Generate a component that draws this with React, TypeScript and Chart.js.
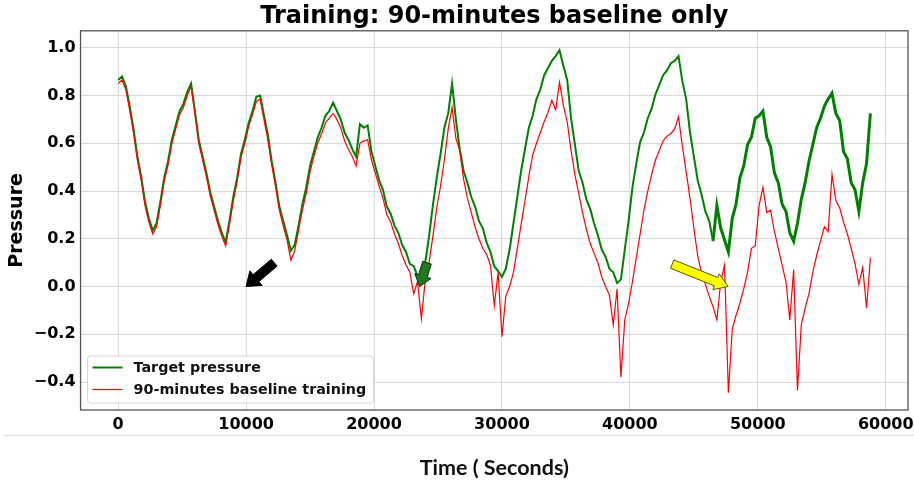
import React, { useEffect, useRef } from "react";
import { Chart, registerables } from "chart.js";

Chart.register(...registerables);

// Sampling interval of both series (seconds)
const TIME_STEP_S = 300;

// Target pressure, one value every 300 s from t = 0 to 58800 s
const targetPressure = [
  0.865, 0.88, 0.84, 0.755, 0.66, 0.545, 0.46, 0.355, 0.285, 0.235,
  0.265, 0.355, 0.455, 0.525, 0.615, 0.675, 0.735, 0.765, 0.815, 0.85,
  0.735, 0.615, 0.545, 0.475, 0.395, 0.335, 0.275, 0.225, 0.185, 0.275,
  0.375, 0.455, 0.555, 0.615, 0.685, 0.735, 0.795, 0.8, 0.715, 0.635,
  0.525, 0.435, 0.335, 0.275, 0.215, 0.15, 0.175, 0.255, 0.345, 0.415,
  0.505, 0.565, 0.625, 0.665, 0.715, 0.735, 0.77, 0.735, 0.7, 0.645,
  0.615, 0.575, 0.545, 0.68, 0.665, 0.675, 0.565, 0.505, 0.445, 0.405,
  0.335, 0.305, 0.255, 0.225, 0.175, 0.145, 0.095, 0.085, 0.045, 0.05,
  0.1, 0.21, 0.34, 0.455, 0.555, 0.665, 0.725, 0.85, 0.7, 0.575,
  0.485, 0.435, 0.375, 0.335, 0.275, 0.245, 0.185, 0.145, 0.085, 0.065,
  0.04, 0.075, 0.155, 0.265, 0.375, 0.485, 0.575, 0.665, 0.715, 0.785,
  0.825, 0.885, 0.915, 0.945, 0.965, 0.99, 0.925, 0.865, 0.705, 0.595,
  0.485, 0.435, 0.365, 0.325, 0.265, 0.215, 0.155, 0.125, 0.075, 0.06,
  0.015, 0.03, 0.155, 0.275, 0.415, 0.515, 0.605, 0.645, 0.705, 0.745,
  0.805, 0.845, 0.885, 0.905, 0.935, 0.945, 0.965, 0.86, 0.785, 0.645,
  0.545, 0.445, 0.385, 0.315, 0.275, 0.19, 0.34, 0.245, 0.195, 0.145,
  0.285, 0.345, 0.455, 0.505, 0.595, 0.625, 0.705, 0.715, 0.735, 0.625,
  0.585, 0.475, 0.435, 0.345, 0.315, 0.225, 0.19, 0.265, 0.365, 0.435,
  0.525, 0.595, 0.665, 0.705, 0.755, 0.785, 0.81, 0.725, 0.695, 0.565,
  0.535, 0.435, 0.405, 0.315, 0.435, 0.515, 0.725,
];

// 90-minutes baseline training, same sampling
const baselineTraining = [
  0.85, 0.865, 0.825, 0.74, 0.645, 0.53, 0.445, 0.34, 0.27, 0.22,
  0.25, 0.34, 0.44, 0.51, 0.6, 0.66, 0.72, 0.75, 0.8, 0.84,
  0.725, 0.6, 0.53, 0.46, 0.38, 0.32, 0.26, 0.21, 0.17, 0.26,
  0.36, 0.44, 0.54, 0.6, 0.67, 0.72, 0.775, 0.785, 0.7, 0.615,
  0.51, 0.42, 0.32, 0.255, 0.195, 0.11, 0.15, 0.235, 0.32, 0.39,
  0.48, 0.545, 0.6, 0.64, 0.685, 0.705, 0.725, 0.7, 0.665, 0.61,
  0.575, 0.545, 0.505, 0.6, 0.61, 0.615, 0.53, 0.475, 0.42, 0.37,
  0.3, 0.27, 0.22, 0.18, 0.13, 0.09, 0.06, -0.03, 0.02, -0.135,
  0.025, 0.1, 0.21, 0.33, 0.42, 0.53, 0.66, 0.75, 0.62, 0.57,
  0.45, 0.37, 0.31, 0.25, 0.2, 0.16, 0.135, 0.09, -0.08, 0.06,
  -0.21, -0.04, 0.0, 0.06, 0.16, 0.26, 0.36, 0.46, 0.55, 0.6,
  0.645, 0.69, 0.73, 0.78, 0.74, 0.855, 0.76, 0.69, 0.57, 0.47,
  0.39, 0.31, 0.24, 0.18, 0.14, 0.1, 0.04, 0.0, -0.035, -0.16,
  -0.01, -0.38, -0.14, -0.07, 0.02, 0.12, 0.22, 0.32, 0.4, 0.47,
  0.53, 0.57, 0.61, 0.63, 0.64, 0.66, 0.71, 0.59, 0.48, 0.37,
  0.245, 0.13, 0.055, 0.01, -0.04, -0.085, -0.14, 0.02, 0.09, -0.445,
  -0.18, -0.12, -0.07, -0.01, 0.06, 0.16, 0.17, 0.34, 0.415, 0.31,
  0.32, 0.23, 0.16, 0.09, 0.02, -0.14, 0.07, -0.435, -0.16, -0.09,
  -0.03, 0.06, 0.13, 0.19, 0.25, 0.23, 0.47, 0.36, 0.33, 0.27,
  0.22, 0.16, 0.095, 0.01, 0.08, -0.09, 0.12,
];

const seriesLabels = ["Target pressure", "90-minutes baseline training"];
const xTickValues = [0, 10000, 20000, 30000, 40000, 50000, 60000];
const yTickValues = [-0.4, -0.2, 0.0, 0.2, 0.4, 0.6, 0.8, 1.0];
const X_MIN = -2940;
const X_MAX = 61740;
const Y_MIN = -0.517;
const Y_MAX = 1.071;
// from this time on the target trace is visibly noisier (thicker band)
const NOISY_FROM_S = 46500;

// Annotation arrows (data coordinates): start -> tip
const arrowStartTimes = [12200, 24140, 43310];
const arrowStartValues = [0.1, 0.1, 0.094];
const arrowTipTimes = [10000, 23570, 47680];
const arrowTipValues = [0.0, 0.0, 0.0];

const ARROW_STYLES = [
  { fill: "#000000", stroke: "#000000", shaft: 9, headW: 19, headL: 13 },
  { fill: "#1f7a1f", stroke: "#0b2a0b", shaft: 9, headW: 17, headL: 11 },
  { fill: "#ffff00", stroke: "#555500", shaft: 9, headW: 17, headL: 13 },
];

const TICK_FONT = { family: "DejaVu Sans", weight: "bold" as const, size: 16 };

function drawArrow(ctx, x1, y1, x2, y2, st) {
  const dx = x2 - x1;
  const dy = y2 - y1;
  const len = Math.hypot(dx, dy);
  const ux = dx / len;
  const uy = dy / len;
  const nx = -uy;
  const ny = ux;
  const bx = x2 - ux * st.headL;
  const by = y2 - uy * st.headL;
  const s = st.shaft / 2;
  const h = st.headW / 2;
  ctx.beginPath();
  ctx.moveTo(x1 + nx * s, y1 + ny * s);
  ctx.lineTo(bx + nx * s, by + ny * s);
  ctx.lineTo(bx + nx * h, by + ny * h);
  ctx.lineTo(x2, y2);
  ctx.lineTo(bx - nx * h, by - ny * h);
  ctx.lineTo(bx - nx * s, by - ny * s);
  ctx.lineTo(x1 - nx * s, y1 - ny * s);
  ctx.closePath();
  ctx.fillStyle = st.fill;
  ctx.fill();
  ctx.lineWidth = 1;
  ctx.strokeStyle = st.stroke;
  ctx.stroke();
}

const decorPlugin = {
  id: "decor",
  afterDatasetsDraw(chart) {
    const { ctx, chartArea, scales } = chart;
    const { left, right, top, bottom } = chartArea;
    ctx.save();
    // axes frame
    ctx.strokeStyle = "#555555";
    ctx.lineWidth = 1.3;
    ctx.strokeRect(left, top, right - left, bottom - top);
    // arrows
    for (let i = 0; i < arrowStartTimes.length; i++) {
      const x1 = scales.x.getPixelForValue(arrowStartTimes[i]);
      const y1 = scales.y.getPixelForValue(arrowStartValues[i]);
      const x2 = scales.x.getPixelForValue(arrowTipTimes[i]);
      const y2 = scales.y.getPixelForValue(arrowTipValues[i]);
      drawArrow(ctx, x1, y1, x2, y2, ARROW_STYLES[i]);
    }
    // legend
    const bx = left + 7;
    const bw = 286;
    const bh = 47;
    const by = bottom - 7 - bh;
    ctx.beginPath();
    if (ctx.roundRect) ctx.roundRect(bx, by, bw, bh, 3);
    else ctx.rect(bx, by, bw, bh);
    ctx.fillStyle = "rgba(255,255,255,0.85)";
    ctx.fill();
    ctx.strokeStyle = "#d4d4d4";
    ctx.lineWidth = 1;
    ctx.stroke();
    ctx.font = "bold 14.3px 'DejaVu Sans'";
    ctx.textBaseline = "middle";
    ctx.textAlign = "left";
    chart.data.datasets.forEach((ds, i) => {
      const ly = by + 11.5 + i * 22;
      ctx.beginPath();
      ctx.moveTo(bx + 5, ly);
      ctx.lineTo(bx + 35, ly);
      ctx.strokeStyle = ds.borderColor;
      ctx.lineWidth = ds.borderWidth;
      ctx.stroke();
      ctx.fillStyle = "#111111";
      ctx.fillText(ds.label, bx + 46, ly + 1);
    });
    ctx.restore();
  },
  afterDraw(chart) {
    const { ctx, chartArea, width } = chart;
    ctx.save();
    ctx.strokeStyle = "#e6e6e6";
    ctx.lineWidth = 1.5;
    ctx.beginPath();
    ctx.moveTo(4, chartArea.bottom + 25.5);
    ctx.lineTo(width, chartArea.bottom + 25.5);
    ctx.stroke();
    ctx.restore();
  },
};

export default function App() {
  const canvasRef = useRef<HTMLCanvasElement | null>(null);

  useEffect(() => {
    const canvas = canvasRef.current;
    if (!canvas) return;
    const toPoints = (arr: number[]) => arr.map((v, i) => ({ x: i * TIME_STEP_S, y: v }));
    const chart = new Chart(canvas, {
      type: "line",
      data: {
        datasets: [
          {
            label: seriesLabels[0],
            data: toPoints(targetPressure),
            borderColor: "#008000",
            borderWidth: 2,
            pointRadius: 0,
            tension: 0,
            order: 1,
            segment: {
              borderWidth: (c) => (c.p0.parsed.x >= NOISY_FROM_S ? 3 : 2),
            },
          },
          {
            label: seriesLabels[1],
            data: toPoints(baselineTraining),
            borderColor: "#ff0000",
            borderWidth: 1.2,
            pointRadius: 0,
            tension: 0,
            order: 0,
          },
        ],
      },
      options: {
        responsive: false,
        animation: false,
        devicePixelRatio: 1,
        layout: { padding: { left: 6, right: 6, top: 0, bottom: 6 } },
        plugins: {
          legend: { display: false },
          tooltip: { enabled: false },
          title: {
            display: true,
            fullSize: false,
            text: "Training: 90-minutes baseline only",
            color: "#000000",
            font: { family: "DejaVu Sans", weight: "bold", size: 24 },
            padding: { top: 2, bottom: 0 },
          },
        },
        scales: {
          x: {
            type: "linear",
            min: X_MIN,
            max: X_MAX,
            afterBuildTicks: (scale) => {
              scale.ticks = xTickValues.map((v) => ({ value: v }));
            },
            afterFit: (scale) => {
              scale.paddingRight = 0;
            },
            ticks: {
              font: TICK_FONT,
              color: "#000000",
              padding: 5,
              maxRotation: 0,
              autoSkip: false,
              callback: (v) => String(v),
            },
            grid: { color: "#d9d9d9", lineWidth: 1, drawTicks: false },
            border: { display: false },
            title: {
              display: true,
              text: "Time ( Seconds)",
              color: "#111111",
              font: { family: "Lato", weight: "bold", size: 21.5 },
              padding: { top: 16, bottom: 0 },
            },
          },
          y: {
            type: "linear",
            min: Y_MIN,
            max: Y_MAX,
            afterBuildTicks: (scale) => {
              scale.ticks = yTickValues.map((v) => ({ value: v }));
            },
            ticks: {
              font: TICK_FONT,
              color: "#000000",
              padding: 5,
              autoSkip: false,
              callback: (v) => {
                const n = Number(v);
                const s = Math.abs(n).toFixed(1);
                return n < -1e-9 ? "\u2212" + s : s;
              },
            },
            grid: { color: "#d9d9d9", lineWidth: 1, drawTicks: false },
            border: { display: false },
            title: {
              display: true,
              text: "Pressure",
              color: "#000000",
              font: { family: "DejaVu Sans", weight: "bold", size: 19 },
              padding: { top: 0, bottom: 0 },
            },
          },
        },
      },
      plugins: [decorPlugin],
    });
    return () => chart.destroy();
  }, []);

  return (
    <div style={{ position: "absolute", left: 0, top: 0, width: 914, height: 487, background: "#ffffff" }}>
      <canvas ref={canvasRef} width={914} height={487} style={{ display: "block" }} />
    </div>
  );
}
